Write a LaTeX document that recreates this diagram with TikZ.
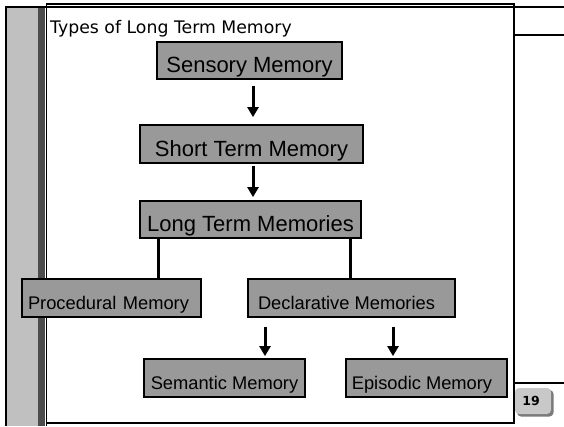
\documentclass[tikz,border=0pt]{standalone}
\usepackage{fontspec}
\setmainfont{Liberation Sans}
\newfontfamily\titlefont{DejaVu Sans}
\usetikzlibrary{arrows.meta}
\definecolor{boxgray}{HTML}{999999}
\definecolor{panelgray}{HTML}{C0C0C0}
\definecolor{stripgray}{HTML}{4D4D4D}
\definecolor{tabgray}{HTML}{C8C8C8}
\definecolor{tabshadow}{HTML}{7A7A7A}

\begin{document}
\begin{tikzpicture}[x=1pt,y=-1pt,
  membox/.style={draw=black, line width=1.8pt, fill=boxgray, inner sep=0pt, text depth=0pt},
  bigbox/.style={membox, text height=24pt, font=\fontsize{22}{26}\selectfont},
  smallbox/.style={membox, text height=22pt, font=\fontsize{18.3}{22}\selectfont},
  flow/.style={line width=3pt, -{Triangle[width=11pt,length=10pt]}},
  branch/.style={line width=3pt},
  frame/.style={line width=1.6pt}
]
\useasboundingbox (0,0) rectangle (564,426);
\fill[white] (0,0) rectangle (564,426);

% side panel on the left
\fill[panelgray] (6,7) rectangle (38,426);
\fill[stripgray] (38,7) rectangle (44.5,426);
\draw[frame] (6,7) -- (6,426);
\draw[frame] (5.2,7) -- (564,7);

% slide frame and rules on the right
\draw[frame] (46.5,426) -- (46.5,4) -- (514,4) -- (514,423) -- (46.5,423);
\draw[frame] (514,35) -- (564,35);
\draw[frame] (514,383) -- (564,383);

% page number tab
\fill[tabshadow, rounded corners=4pt] (517,390) rectangle (553.5,416.5);
\node[fill=tabgray, rounded corners=4pt, minimum width=36pt, minimum height=26pt,
      inner sep=0pt, font=\titlefont\bfseries\fontsize{12.5}{15}\selectfont]
      (pagenum) at (533,401) {\hspace*{-4pt}19};

% title
\node[anchor=base west, inner sep=0pt, font=\titlefont\fontsize{17.3}{20}\selectfont]
      (title) at (50,33) {Types of Long Term Memory};

% memory boxes
\node[bigbox, minimum width=185pt, minimum height=37pt] (sensory) at (249.5,60.5) {Sensory Memory};
\node[bigbox, minimum width=223pt, minimum height=38pt] (short) at (251.5,144) {Short Term Memory};
\node[bigbox, minimum width=221pt, minimum height=37pt] (longt) at (250.5,219.5) {Long Term Memories};
\node[smallbox, minimum width=179pt, minimum height=38pt] (proc) at (111.5,298) {\hspace*{-6pt}Procedural\hspace{0.35em}Memory};
\node[smallbox, minimum width=207pt, minimum height=38pt] (decl) at (351.5,298) {\hspace*{-10pt}Declarative Memories};
\node[smallbox, minimum width=161pt, minimum height=38pt] (sem) at (224.5,378) {Semantic Memory};
\node[smallbox, minimum width=161pt, minimum height=38pt] (epi) at (426.5,378) {\hspace*{-9pt}Episodic Memory};

% connectors
\draw[flow] ([xshift=3.5pt,yshift=-6pt]sensory.south) -- ([xshift=1.5pt,yshift=7pt]short.north);
\draw[flow] ([xshift=1.5pt,yshift=-2pt]short.south) -- ([xshift=2.5pt,yshift=3pt]longt.north);
\draw[branch] ([xshift=-92.5pt]longt.south) -- ([xshift=-92.5pt]longt.south |- proc.north);
\draw[branch] ([xshift=99.5pt]longt.south) -- ([xshift=99.5pt]longt.south |- decl.north);
\draw[flow] ([xshift=-86.5pt,yshift=-9pt]decl.south) -- ([xshift=40.5pt,yshift=2pt]sem.north);
\draw[flow] ([xshift=41.5pt,yshift=-9pt]decl.south) -- ([xshift=-33.5pt,yshift=2pt]epi.north);
\end{tikzpicture}
\end{document}
